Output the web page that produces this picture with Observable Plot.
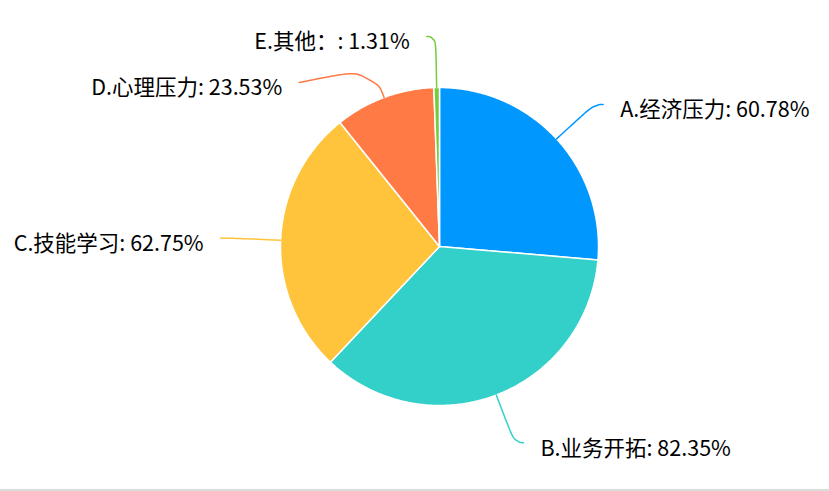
<!DOCTYPE html>
<html><head><meta charset="utf-8">
<script src="https://cdn.jsdelivr.net/npm/d3@7"></script>
<script src="https://cdn.jsdelivr.net/npm/@observablehq/plot@0.6"></script>
<style>
html,body{margin:0;padding:0;background:#fff;}
#chart{width:829px;height:489px;border-bottom:2px solid #dcdcdc;overflow:hidden;}
</style></head><body><div id="chart"></div>
<script>
const categories = ["A.经济压力", "B.业务开拓", "C.技能学习", "D.心理压力", "E.其他："];
const values = [60.78, 82.35, 62.75, 23.53, 1.31];
const colors = ["#0098FF", "#33D0C9", "#FFC43B", "#FF7A45", "#74CC3F"];

const W = 829, H = 489, cx = 439, cy = 246, R = 159;
const len1 = 51, len2 = 9, gap = 17, minGap = 46, smooth = 0.6;
const total = d3.sum(values);
const pt = (a, r) => [cx + r * Math.sin(a), cy - r * Math.cos(a)];

let acc = 0;
const slices = categories.map((c, i) => {
  const a0 = acc / total * 2 * Math.PI; acc += values[i];
  const a1 = acc / total * 2 * Math.PI;
  return {cat: c, value: values[i], a0, a1, mid: (a0 + a1) / 2};
});

const slicePts = slices.flatMap(s => {
  const n = Math.max(2, Math.ceil((s.a1 - s.a0) / 0.01));
  const pts = [{cat: s.cat, x: cx, y: cy}];
  for (let k = 0; k <= n; k++) {
    const [x, y] = pt(s.a0 + (s.a1 - s.a0) * k / n, R);
    pts.push({cat: s.cat, x, y});
  }
  return pts;
});

slices.forEach(s => {
  s.dir = Math.sin(s.mid) >= 0 ? 1 : -1;
  s.edge = pt(s.mid, R);
  s.p1 = pt(s.mid, R + len1);
  s.ly = s.p1[1];
});
for (const side of [1, -1]) {
  const list = slices.filter(s => s.dir === side).sort((a, b) => a.ly - b.ly);
  for (let i = 1; i < list.length; i++) {
    if (list[i].ly < list[i - 1].ly + minGap) { list[i].ly = list[i - 1].ly + minGap; list[i].moved = true; }
  }
}
const guidePts = [];
const labels = [];
slices.forEach(s => {
  let corner, end;
  if (!s.moved) {
    corner = s.p1;
    end = [s.p1[0] + s.dir * len2, s.p1[1]];
  } else {
    const dy = Math.abs(s.ly - cy);
    const dx = Math.sqrt(Math.max(0, (R + len1) ** 2 - dy * dy));
    corner = pt(s.mid, R + len1 * 0.62);
    end = [cx + s.dir * (dx + len2), s.ly];
  }
  const p0 = s.edge;
  const d1 = Math.hypot(p0[0] - corner[0], p0[1] - corner[1]);
  const d2 = Math.hypot(end[0] - corner[0], end[1] - corner[1]);
  const mv = Math.min(d1, d2) * smooth;
  const m0 = [corner[0] + (p0[0] - corner[0]) * mv / d1, corner[1] + (p0[1] - corner[1]) * mv / d1];
  const m2 = [corner[0] + (end[0] - corner[0]) * mv / d2, corner[1] + (end[1] - corner[1]) * mv / d2];
  const m1 = [(m0[0] + m2[0]) / 2, (m0[1] + m2[1]) / 2];
  const bez = (a, b, c, t) => {
    const u = 1 - t;
    return [u*u*u*a[0] + 3*u*u*t*b[0] + 3*u*t*t*b[0] + t*t*t*c[0],
            u*u*u*a[1] + 3*u*u*t*b[1] + 3*u*t*t*b[1] + t*t*t*c[1]];
  };
  for (let k = 0; k <= 20; k++) { const [x, y] = bez(p0, m0, m1, k / 20); guidePts.push({cat: s.cat, x, y}); }
  for (let k = 1; k <= 20; k++) { const [x, y] = bez(m1, m2, end, k / 20); guidePts.push({cat: s.cat, x, y}); }
  labels.push({cat: s.cat, dir: s.dir, x: end[0] + s.dir * gap, y: s.ly + 6,
    text: `${s.cat}: ${s.value.toFixed(2)}%`});
});

const chart = Plot.plot({
  width: W, height: H, margin: 0,
  style: {fontFamily: "'Microsoft YaHei','Noto Sans CJK SC',sans-serif", background: "#fff"},
  x: {domain: [0, W], range: [0, W], axis: null},
  y: {domain: [0, H], range: [0, H], axis: null},
  color: {domain: categories, range: colors},
  marks: [
    Plot.line(slicePts, {x: "x", y: "y", z: "cat", fill: "cat", stroke: "white", strokeWidth: 1.5, curve: "linear-closed"}),
    Plot.line(guidePts, {x: "x", y: "y", z: "cat", stroke: "cat", strokeWidth: 1.5}),
    Plot.text(labels.filter(d => d.dir > 0), {x: "x", y: "y", text: "text", textAnchor: "start", fontSize: 21.5, fill: "#000"}),
    Plot.text(labels.filter(d => d.dir < 0), {x: "x", y: "y", text: "text", textAnchor: "end", fontSize: 21.5, fill: "#000"})
  ]
});
document.getElementById("chart").append(chart);
</script>
</body></html>
